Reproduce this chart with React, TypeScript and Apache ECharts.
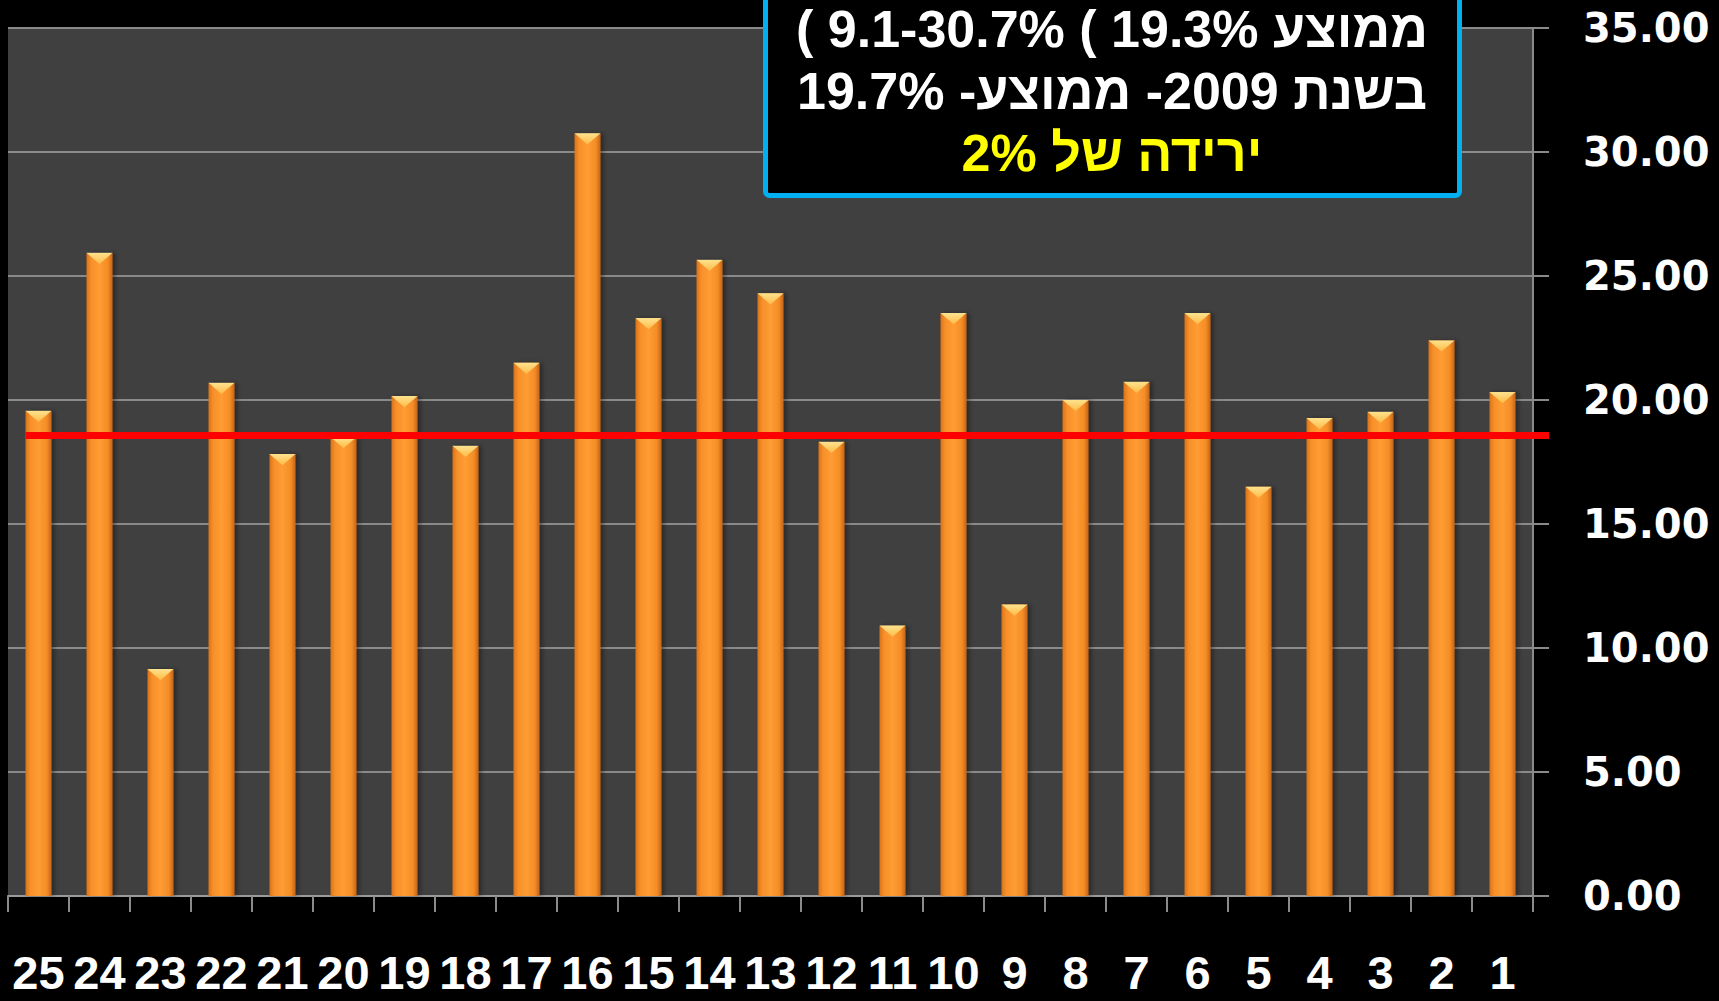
import React, { useEffect, useRef } from "react";
import * as echarts from "echarts";

const categories = ["25", "24", "23", "22", "21", "20", "19", "18", "17", "16", "15", "14", "13", "12", "11", "10", "9", "8", "7", "6", "5", "4", "3", "2", "1"];
const values = [19.56, 25.93, 9.15, 20.69, 17.82, 18.5, 20.16, 18.15, 21.5, 30.75, 23.3, 25.65, 24.3, 18.31, 10.9, 23.5, 11.75, 20.0, 20.73, 23.5, 16.5, 19.27, 19.52, 22.4, 20.32];
const averageValue = 18.57;
const yMin = 0;
const yMax = 35;
const yInterval = 5;

const line1 = "\u202Bממוצע 19.3% ) 9.1-30.7% )\u202C";
const line2 = "\u202Bבשנת 2009- ממוצע- 19.7%\u202C";
const line3 = "\u202Bירידה של 2%\u202C";

const BAR_WIDTH = 26;
const TICK_LEN = 16;

export default function App() {
  const ref = useRef<HTMLDivElement>(null);
  useEffect(() => {
    const chart = echarts.init(ref.current!, null, { renderer: "svg" });
    chart.setOption({
      animation: false,
      backgroundColor: "#000000",
      grid: {
        left: 8,
        right: 186,
        top: 28,
        bottom: 105,
        show: true,
        backgroundColor: "#404040",
        borderWidth: 0,
      },
      xAxis: {
        type: "category",
        data: categories,
        boundaryGap: true,
        axisLine: { show: true, lineStyle: { color: "#9a9a9a", width: 2 } },
        axisTick: { show: true, length: TICK_LEN, lineStyle: { color: "#8a8a8a", width: 2 } },
        axisLabel: {
          interval: 0,
          color: "#ffffff",
          fontFamily: "'Liberation Sans Narrow', 'Liberation Sans', sans-serif",
          fontWeight: "bold",
          fontSize: 47,
          lineHeight: 40,
          margin: 56,
        },
        splitLine: { show: false },
      },
      yAxis: {
        type: "value",
        position: "right",
        min: yMin,
        max: yMax,
        interval: yInterval,
        axisLine: { show: true, lineStyle: { color: "#8a8a8a", width: 2 } },
        axisTick: { show: true, length: TICK_LEN, lineStyle: { color: "#8a8a8a", width: 2 } },
        splitLine: { show: true, lineStyle: { color: "#8a8a8a", width: 2 } },
        axisLabel: {
          color: "#ffffff",
          fontFamily: "'DejaVu Sans', Verdana, sans-serif",
          fontWeight: "bold",
          fontSize: 40,
          margin: 50,
          formatter: (v: number) => v.toFixed(2),
        },
      },
      series: [
        {
          type: "bar",
          data: values,
          barWidth: BAR_WIDTH,
          z: 2,
          itemStyle: {
            color: new echarts.graphic.LinearGradient(0, 0, 1, 0, [
              { offset: 0, color: "#d8731a" },
              { offset: 0.18, color: "#f7902a" },
              { offset: 0.5, color: "#ff9c33" },
              { offset: 0.82, color: "#f48d26" },
              { offset: 1, color: "#c4641a" },
            ]),
            shadowColor: "rgba(0,0,0,0.35)",
            shadowBlur: 4,
            shadowOffsetX: 3,
          },
        },
        {
          type: "pictorialBar",
          data: values,
          barWidth: BAR_WIDTH,
          z: 3,
          symbol: "path://M0,0 L26,0 L13,11 Z",
          symbolSize: [BAR_WIDTH, 11],
          symbolPosition: "end",
          symbolRepeat: false,
          silent: true,
          itemStyle: {
            color: new echarts.graphic.LinearGradient(0, 0, 0, 1, [
              { offset: 0, color: "#fff0a0" },
              { offset: 1, color: "#ffc04a" },
            ]),
            opacity: 0.85,
          },
        },
      ],
    });

    const yAvg = chart.convertToPixel({ yAxisIndex: 0 }, averageValue) as number;
    const xFirst = chart.convertToPixel({ xAxisIndex: 0 }, categories[0]) as number;
    const xLast = chart.convertToPixel({ xAxisIndex: 0 }, categories[categories.length - 1]) as number;
    const band = (xLast - xFirst) / (categories.length - 1);
    const lineLeft = xFirst - BAR_WIDTH / 2;
    const lineRight = xLast + band / 2 + TICK_LEN;

    const textFont = "bold 52px 'Liberation Sans', Arial, 'DejaVu Sans', sans-serif";
    const cx = 1112;
    const textStyle = (text: string, fill: string) => ({
      text,
      fill,
      font: textFont,
      lineHeight: 44,
      textAlign: "center",
      textVerticalAlign: "middle",
      align: "center",
      verticalAlign: "middle",
    });
    chart.setOption({
      graphic: [
        {
          type: "line",
          z: 50,
          shape: { x1: lineLeft, y1: yAvg, x2: lineRight, y2: yAvg },
          style: { stroke: "#ff0000", lineWidth: 7 },
        },
        {
          type: "rect",
          z: 60,
          shape: { x: 765.5, y: -20, width: 694, height: 215.5, r: 4 },
          style: { fill: "#000000", stroke: "#00b0f0", lineWidth: 5 },
        },
        { type: "text", z: 61, x: cx, y: 29, style: textStyle(line1, "#ffffff") },
        { type: "text", z: 61, x: cx, y: 91, style: textStyle(line2, "#ffffff") },
        { type: "text", z: 61, x: cx, y: 153, style: textStyle(line3, "#ffff00") },
      ],
    });

    return () => chart.dispose();
  }, []);
  return (
    <div
      ref={ref}
      style={{ position: "absolute", left: 0, top: 0, width: 1719, height: 1001, background: "#000" }}
    />
  );
}
